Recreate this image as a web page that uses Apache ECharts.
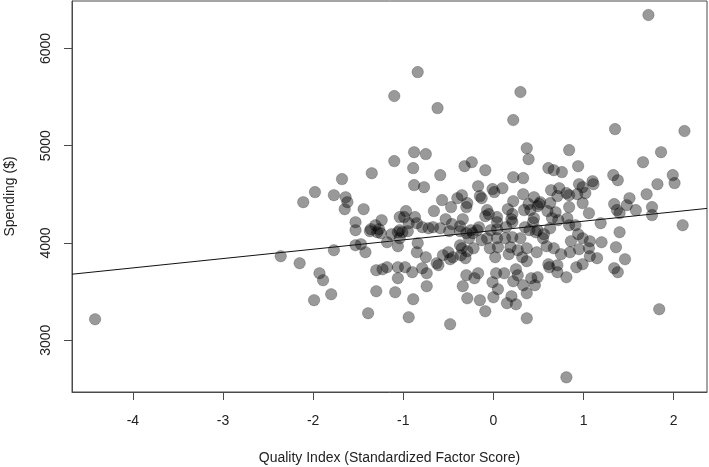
<!DOCTYPE html>
<html>
<head>
<meta charset="utf-8">
<script src="https://cdn.jsdelivr.net/npm/echarts@6/dist/echarts.min.js"></script>
<style>
html,body{margin:0;padding:0;background:#fff;}
#chart{width:709px;height:467px;}
</style>
</head>
<body>
<div id="chart"></div>
<script>
// Quality index (x) and spending (y) for each observation
var qualityIndex = [
-4.42,-2.36,-2.15,-1.93,-1.89,-1.99,-1.80,-1.77,-2.11,-1.98,-1.77,-1.68,-1.64,-1.62,-1.65,-1.53,-1.53,-1.10,-1.35,-1.44,
-1.24,-1.31,-1.36,-1.27,-1.13,-1.04,-1.37,-1.29,-1.25,-1.06,-1.18,-1.06,-1.53,-1.47,-1.42,-1.30,-1.23,-1.18,-1.06,-1.06,
-1.30,-1.09,-1.39,-0.62,0.22,-0.88,-0.75,-0.89,-0.59,-0.88,-0.77,-0.32,-0.24,-0.09,0.37,0.39,0.22,0.33,-0.17,-0.01,
0.01,0.10,-0.15,-0.13,-0.35,-0.40,-0.29,-0.30,-0.57,-0.47,-0.66,0.33,0.45,0.22,0.39,0.49,0.16,0.21,0.34,0.41,
-0.07,-0.05,-0.09,0.04,0.04,0.20,0.21,0.45,0.44,-0.97,-0.99,-0.87,-0.94,-0.85,-0.79,-0.72,-0.67,-0.53,-0.46,-0.34,
-0.37,-0.25,-0.16,-0.18,-0.03,0.04,0.14,0.35,0.40,-1.04,-0.95,-0.49,-0.37,-0.30,0.49,-1.01,-1.04,-0.84,-0.85,-0.75,
-0.63,-0.56,-0.50,-0.45,-0.48,-0.37,-0.36,-0.31,-0.29,-0.35,-0.22,-0.27,-0.23,-0.13,-0.04,0.02,0.05,-0.07,0.04,0.13,
0.21,0.30,0.19,0.17,0.27,0.32,0.37,0.37,0.48,0.47,-0.98,-0.90,-0.79,-0.74,-0.74,-0.89,-0.94,-0.48,-0.30,-0.17,
-0.21,-0.34,-0.29,-0.15,-0.09,-0.01,0.05,0.00,0.03,0.12,0.25,0.27,0.22,0.33,0.37,0.20,0.15,0.25,0.37,0.42,
0.46,0.49,1.35,2.12,0.84,1.86,1.66,0.94,0.61,0.67,0.76,1.33,1.38,1.10,1.11,0.95,0.99,1.99,2.01,1.82,
1.70,1.51,1.48,1.58,1.76,1.76,1.34,1.37,1.40,0.64,0.73,0.81,0.84,0.71,0.93,1.02,0.99,0.63,0.51,0.84,
0.60,0.69,1.06,0.65,0.72,0.82,0.84,0.91,0.63,1.19,1.40,2.10,0.94,0.56,0.99,0.86,1.07,1.20,0.55,1.36,
0.59,0.67,0.75,0.85,0.95,1.06,1.07,1.15,1.46,0.61,0.62,0.71,0.71,0.81,0.92,0.99,1.34,1.38,1.84,0.81,
1.72,-0.84,-1.10,0.30,0.52,-0.59,-0.61
];
var spending = [
3216,3864,3792,3689,3617,3412,3473,3926,4420,4523,4492,4657,4471,4420,4348,4214,4132,4842,4718,4348,
4235,4183,4142,4142,4091,4266,4122,4111,4101,4111,4008,3967,3977,3988,3905,3720,3730,3751,3751,3638,
3504,3494,3278,5387,5264,4934,4914,4770,4698,4595,4574,4790,4831,4749,4975,4862,4677,4667,4584,4554,
4523,4564,4482,4461,4492,4461,4410,4369,4441,4369,4328,4502,4471,4430,4400,4379,4348,4297,4338,4338,
4338,4297,4276,4266,4214,4245,4214,4255,4214,4328,4266,4266,4204,4204,4163,4152,4163,4245,4194,4245,
4173,4132,4163,4132,4132,4142,4163,4163,4132,4132,4122,4122,4122,4101,4132,4111,4049,3998,3905,3854,
3792,3874,3905,3854,3833,3977,3874,3844,3915,3946,3946,4049,4101,4029,3946,3854,3957,4049,4049,4049,
4060,4049,3957,3885,3926,3854,3813,3946,3905,4111,3751,3700,3741,3689,3556,3422,3237,3165,3669,3689,
3638,3556,3432,3412,3298,3597,3525,3442,3689,3689,3730,3669,3607,3566,3483,3452,3381,3370,3226,3638,
3566,3648,5171,5151,4955,4934,4831,4790,4770,4749,4729,4698,4646,4636,4605,4605,4574,4698,4616,4605,
4502,4461,4389,4338,4369,4287,4400,4338,4307,4543,4564,4513,4492,4482,4502,4513,4410,4410,4400,4369,
4328,4317,4307,4255,4235,4255,4183,4183,4152,4204,4111,4183,4091,4091,4049,4018,4018,4008,4049,3957,
3967,3946,3885,3905,3936,3946,3864,3844,3833,3782,3751,3771,3700,3648,3751,3782,3741,3700,3319,2619,
6344,5757,5511,5552,4420,4152,3772
];
var xTicks = [-4, -3, -2, -1, 0, 1, 2];
var yTicks = [3000, 4000, 5000, 6000];
var xRange = [-4.676, 2.37];
var yRange = [2468, 6488];
// fitted regression line
var lineIntercept = 4128;
var lineSlope = 96;

var points = qualityIndex.map(function (x, i) { return [x, spending[i]]; });
var linePts = xRange.map(function (x) { return [x, lineIntercept + lineSlope * x]; });

var chart = echarts.init(document.getElementById('chart'), null, {renderer: 'canvas'});
var font = 'Liberation Sans, Arial, Helvetica, sans-serif';
var axisCol = '#4a4a4a';
chart.setOption({
  animation: false,
  backgroundColor: '#ffffff',
  grid: {left: 72, top: 1, right: 2, bottom: 75, containLabel: false, outerBoundsMode: 'none',
    show: true, borderColor: axisCol, borderWidth: 1, backgroundColor: 'transparent'},
  xAxis: {
    type: 'value', min: xRange[0], max: xRange[1],
    name: 'Quality Index (Standardized Factor Score)',
    nameLocation: 'middle', nameGap: 59,
    nameTextStyle: {fontFamily: font, fontSize: 14, color: '#222'},
    axisLine: {show: true, onZero: false, lineStyle: {color: axisCol, width: 1}},
    splitLine: {show: false},
    axisTick: {show: true, length: 8, lineStyle: {color: axisCol, width: 1}, customValues: xTicks},
    axisLabel: {customValues: xTicks, margin: 22, fontFamily: font, fontSize: 14, color: '#222',
      formatter: function (v) { return String(v); }}
  },
  yAxis: {
    type: 'value', min: yRange[0], max: yRange[1],
    name: 'Spending ($)',
    nameLocation: 'middle', nameGap: 55, nameRotate: 90,
    nameTextStyle: {fontFamily: font, fontSize: 14, color: '#222'},
    axisLine: {show: true, onZero: false, lineStyle: {color: axisCol, width: 1}},
    splitLine: {show: false},
    axisTick: {show: true, length: 8, lineStyle: {color: axisCol, width: 1}, customValues: yTicks},
    axisLabel: {customValues: yTicks, rotate: 90, margin: 19, fontFamily: font, fontSize: 14, color: '#222',
      formatter: function (v) { return String(v); }}
  },
  series: [
    {
      type: 'scatter', data: points, symbolSize: 11.5,
      itemStyle: {color: 'rgba(0,0,0,0.5)', borderColor: 'rgba(0,0,0,0.25)', borderWidth: 1},
      z: 2
    },
    {
      type: 'line', data: linePts, symbol: 'none', silent: true,
      lineStyle: {color: '#111', width: 1}, z: 3
    }
  ]
});
</script>
</body>
</html>
